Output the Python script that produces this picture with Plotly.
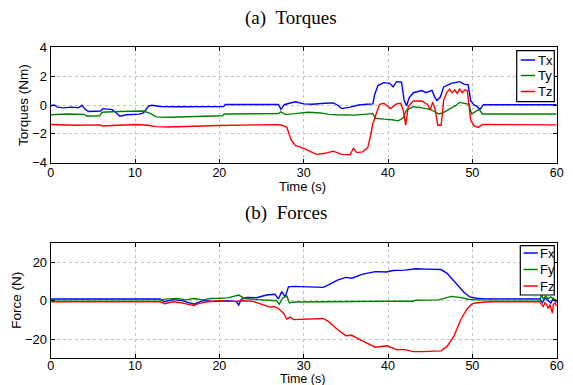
import plotly.graph_objects as go

# ---------------- Torques (Nm) ----------------
t_tx = [0, 0.4, 0.8, 1.5, 2.5, 3.3, 3.7, 4.1, 4.5, 5.5, 5.9, 6.2, 7.3, 7.8, 8.2, 9.0, 10.5, 11.0, 11.6, 12.0,
        13, 15, 17, 19, 20.5, 20.7, 24, 27.0, 27.3, 27.7, 28.3, 29.0, 30.0, 31.0, 32.5, 33.5, 34.0, 34.5, 35.5, 36.5,
        37.5, 38.2, 38.4, 38.8, 39.5, 40.2, 40.6, 41.0, 41.6, 41.9, 42.2, 42.5, 43.0, 44.0, 44.5, 45.2, 45.5, 45.8, 46.2, 46.6,
        47.5, 48.5, 49.0, 49.5, 49.8, 50.2, 50.5, 50.9, 51.3, 55, 60]
tx = [-0.05, 0.0, -0.15, -0.2, -0.15, -0.2, -0.02, -0.3, -0.45, -0.45, -0.42, -0.25, -0.32, -0.55, -0.78, -0.68, -0.63, -0.55, -0.08, -0.02,
      -0.1, -0.12, -0.1, -0.12, -0.1, 0.03, 0.04, 0.04, -0.3, 0.02, 0.12, 0.22, 0.08, 0.05, 0.12, 0.15, 0.0, -0.25, -0.15, 0.0,
      0.05, 0.08, 0.7, 1.35, 1.55, 1.5, 1.25, 1.62, 1.58, 0.35, -0.05, 0.5, 0.85, 1.0, 0.85, 1.02, 0.6, 0.3, 0.55, 1.25,
      1.5, 1.62, 1.45, 1.4, 0.3, 0.0, -0.08, -0.3, 0.02, 0.02, 0.02]

t_ty = [0, 2, 4.0, 4.3, 5.8, 6.1, 8, 10.5, 11.0, 11.8, 12.5, 14, 16, 18, 20.3, 20.6, 24, 27.0, 27.3, 27.8,
        29, 30.5, 32, 33, 34, 36, 38.2, 38.5, 39.5, 40.5, 41.2, 41.8, 42.2, 43.0, 44.0, 45.0, 45.5, 46.0, 46.5, 47.0,
        48.0, 48.5, 49.3, 49.6, 49.9, 50.3, 50.8, 51.2, 55, 60]
ty = [-0.68, -0.62, -0.65, -0.78, -0.75, -0.5, -0.45, -0.45, -0.42, -0.58, -0.82, -0.85, -0.82, -0.78, -0.75, -0.62, -0.62, -0.6, -0.48, -0.65,
      -0.6, -0.5, -0.55, -0.65, -0.68, -0.7, -0.6, -0.92, -0.98, -1.02, -1.1, -0.9, -0.35, -0.12, -0.2, -0.3, -0.45, -0.62, -0.55, -0.4,
      -0.05, 0.18, 0.12, 0.05, -0.62, -0.45, -0.3, -0.62, -0.62, -0.62]

t_tz = [0, 3, 5.8, 6.1, 8, 10, 11.5, 12.5, 14, 16, 17, 20, 24, 27.0, 27.5, 28.0, 28.5, 29.0, 30.0, 31.0,
        31.5, 32.5, 33.5, 34.5, 35.5, 35.9, 36.3, 37.0, 37.6, 37.9, 38.2, 38.6, 39.0, 39.5, 40.3, 41.0, 41.5, 41.8, 42.1, 42.4,
        43.0, 44.0, 44.7, 45.0, 45.3, 45.6, 45.9, 46.3, 46.6, 47.0, 47.3, 47.6, 47.9, 48.2, 48.5, 48.8, 49.1, 49.4, 49.8, 50.2,
        50.7, 51.2, 55, 60]
tz = [-1.35, -1.4, -1.38, -1.45, -1.4, -1.35, -1.4, -1.5, -1.52, -1.48, -1.45, -1.42, -1.38, -1.36, -1.42, -1.55, -2.4, -2.8, -3.0, -3.25,
      -3.42, -3.35, -3.2, -3.42, -3.45, -3.0, -3.3, -3.25, -2.95, -2.2, -1.3, -0.6, 0.05, 0.12, -0.25, 0.08, 0.12, -0.35, -1.4, -0.1,
      0.28, 0.28, 0.02, -0.35, 0.2, -0.35, -1.4, -1.4, 0.35, 0.9, 1.1, 0.85, 1.05, 0.8, 1.1, 0.85, 1.05, 1.0, -1.05, -1.45,
      -1.55, -1.35, -1.38, -1.38]

# ---------------- Forces (N) ----------------
t_fx = [0, 13, 13.5, 14.5, 15.5, 16.5, 17.0, 17.5, 18, 19, 20, 21, 22, 22.3, 22.6, 23.2, 24.4, 25.6, 26.6, 27.0,
        27.4, 27.8, 28.2, 28.8, 30, 31.9, 32.3, 33, 34, 35, 35.7, 37, 38.5, 39.8, 40.6, 42, 43.3, 44.5, 46.3, 47.0,
        47.8, 48.5, 49.0, 49.7, 50.5, 51.5, 55, 58, 58.3, 58.6, 59.0, 59.3, 59.6, 60]
fx = [0.9, 0.9, -0.5, 0.6, 0.2, -1.2, -1.8, -0.8, 0.1, -0.2, -0.3, 0.0, -0.4, -2.2, 0.8, 1.8, 1.6, 3.0, 3.4, 0.9,
      4.8, 2.1, 7.3, 7.5, 7.3, 7.0, 7.0, 8.5, 10.8, 12.2, 11.8, 13.9, 15.2, 15.0, 15.8, 16.0, 16.7, 16.5, 16.3, 14.3,
      10.6, 7.0, 4.5, 2.0, 1.3, 1.0, 1.0, 1.0, -1.0, 1.5, 0.0, -1.2, 1.2, -0.8]

t_fy = [0, 13, 14, 15, 16, 17, 18, 19, 20, 21, 22.3, 23, 24, 25, 26, 26.8, 27.1, 27.5, 28.0, 28.3,
        29, 32, 36, 40, 43.0, 43.3, 46, 47.5, 48.5, 49.5, 50.5, 55, 58, 58.2, 58.4, 58.7, 59.0, 59.3, 59.6, 60]
fy = [0.5, 0.5, 1.0, 1.2, 0.5, 1.2, 0.5, 1.2, 1.3, 1.5, 3.0, 1.2, 0.8, 0.5, 0.3, 0.0, -1.8, 1.5, 2.5, -1.0,
      -0.6, -0.6, -0.4, -0.2, -0.2, 0.3, 0.5, 2.3, 1.8, 0.8, 0.5, 0.5, 0.5, 3.0, 1.0, 2.5, 1.0, 2.0, 1.0, 0.3]

t_fz = [0, 13, 13.5, 14.5, 15.5, 16.5, 17.0, 17.5, 18.5, 20, 21, 22, 23, 24, 25, 25.5, 26, 26.5, 27, 27.6,
        28.0, 28.4, 28.8, 30, 32.3, 33, 34, 35, 35.7, 37, 38.5, 39.9, 41, 42, 42.5, 43, 44, 46.3, 47, 47.8,
        48.6, 49.4, 50.0, 50.5, 52, 58, 58.2, 58.4, 58.6, 58.8, 59.0, 59.2, 59.4, 59.5, 59.6, 59.8, 60]
fz = [-0.5, -0.5, -1.5, -0.5, -1.0, -2.0, -2.5, -1.5, -0.5, 0.0, -0.3, -0.2, 0.0, -0.3, -1.5, -2.5, -3.3, -3.0, -4.0, -6.5,
      -9.5, -8.5, -9.8, -9.5, -9.2, -11.0, -15.0, -18.2, -18.0, -21.0, -24.2, -23.5, -25.5, -25.5, -26.2, -26.5, -26.5, -26.1, -23.8, -18.6,
      -10.0, -4.0, -1.5, -1.0, -0.5, -0.5, -2.0, -3.0, -1.0, -2.0, -4.0, -2.0, -5.0, -6.5, -2.0, -1.0, -3.0]

x_ticks = [0, 10, 20, 30, 40, 50, 60]
torque_ticks = [-4, -2, 0, 2, 4]
force_ticks = [-20, 0, 20]
torque_names = ["Tx", "Ty", "Tz"]
force_names = ["Fx", "Fy", "Fz"]

BLUE, GREEN, RED = "#0000ff", "#008000", "#ff0000"
COLORS = [BLUE, GREEN, RED]
SANS = "Liberation Sans, Arial, Helvetica, sans-serif"
SERIF = "Liberation Serif, Times New Roman, serif"

# page offset (default body margin) -> figure size so it fills the 573x385 window
OFF = 8
FW, FH = 573 - OFF, 385 - OFF


def PX(px):
    return (px - OFF) / FW


def PY(py):
    return 1 - (py - OFF) / FH


fig = go.Figure()
lw = 1.4
for tt, vv, name, col in zip([t_tx, t_ty, t_tz], [tx, ty, tz], torque_names, COLORS):
    fig.add_trace(go.Scatter(x=tt, y=vv, mode="lines", name=name, line=dict(color=col, width=lw),
                             xaxis="x", yaxis="y", showlegend=False))
for tt, vv, name, col in zip([t_fx, t_fy, t_fz], [fx, fy, fz], force_names, COLORS):
    fig.add_trace(go.Scatter(x=tt, y=vv, mode="lines", name=name, line=dict(color=col, width=lw),
                             xaxis="x2", yaxis="y2", showlegend=False))

X0, X1 = 50.7, 556.7
TOP = (47.3, 162.7)
BOT = (243.3, 358.3)

common = dict(showline=True, linecolor="black", linewidth=1, mirror="ticks", ticks="inside", ticklen=4,
              tickcolor="black", showgrid=True, gridcolor="#c4c4c4", griddash="dot", gridwidth=1,
              zeroline=False, tickfont=dict(family=SANS, size=13, color="black"), automargin=False)
xfont = dict(family=SANS, size=12.5, color="black")

fig.update_layout(
    width=FW, height=FH, margin=dict(l=0, r=0, t=0, b=0),
    paper_bgcolor="white", plot_bgcolor="white", showlegend=False,
    xaxis=dict(domain=[PX(X0), PX(X1)], anchor="y", range=[0, 60], tickvals=x_ticks,
               **dict(common, tickfont=xfont, ticklabelstandoff=-2)),
    yaxis=dict(domain=[PY(TOP[1]), PY(TOP[0])], anchor="x", range=[-4, 4], tickvals=torque_ticks, **common),
    xaxis2=dict(domain=[PX(X0), PX(X1)], anchor="y2", range=[0, 60], tickvals=x_ticks,
                **dict(common, tickfont=xfont, ticklabelstandoff=-4)),
    yaxis2=dict(domain=[PY(BOT[1]), PY(BOT[0])], anchor="x2", range=[-30, 30], tickvals=force_ticks, **common),
)

ann = [
    dict(text="(a)\u00a0\u00a0Torques", x=PX(291), y=PY(18), font=dict(family=SERIF, size=19, color="black")),
    dict(text="(b)\u00a0\u00a0Forces", x=PX(286), y=PY(213), font=dict(family=SERIF, size=19, color="black")),
    dict(text="Time (s)", x=PX(302), y=PY(186.5), font=dict(family=SANS, size=13, color="black")),
    dict(text="Time (s)", x=PX(302), y=PY(378.8), font=dict(family=SANS, size=12.5, color="black")),
    dict(text="Torques (Nm)", x=PX(23), y=PY(105), textangle=-90, font=dict(family=SANS, size=13.5, color="black")),
    dict(text="Force (N)", x=PX(17), y=PY(300.8), textangle=-90, font=dict(family=SANS, size=13.5, color="black")),
]
for a in ann:
    fig.add_annotation(xref="paper", yref="paper", showarrow=False, xanchor="center", yanchor="middle", **a)

# legends drawn as boxed keys (top-right of each panel)
legend_specs = [
    dict(box=(516.7, 50.7, 554.3, 101.7), rows=[60, 75.5, 91.5], line=(520.7, 535), text_x=536, names=torque_names),
    dict(box=(520.3, 245.7, 554.3, 295), rows=[253, 269.5, 286], line=(523.5, 537.7), text_x=538, names=force_names),
]
for spec in legend_specs:
    bx0, by0, bx1, by1 = spec["box"]
    fig.add_shape(type="rect", xref="paper", yref="paper", x0=PX(bx0), x1=PX(bx1), y0=PY(by1), y1=PY(by0),
                  line=dict(color="black", width=1.2), fillcolor="white", layer="above")
    for ry, name, col in zip(spec["rows"], spec["names"], COLORS):
        fig.add_shape(type="line", xref="paper", yref="paper", x0=PX(spec["line"][0]), x1=PX(spec["line"][1]),
                      y0=PY(ry), y1=PY(ry), line=dict(color=col, width=1.5), layer="above")
        fig.add_annotation(xref="paper", yref="paper", showarrow=False, xanchor="left", yanchor="middle",
                           x=PX(spec["text_x"]), y=PY(ry), text=name, font=dict(family=SANS, size=13, color="black"))

fig.write_html("out.html")
